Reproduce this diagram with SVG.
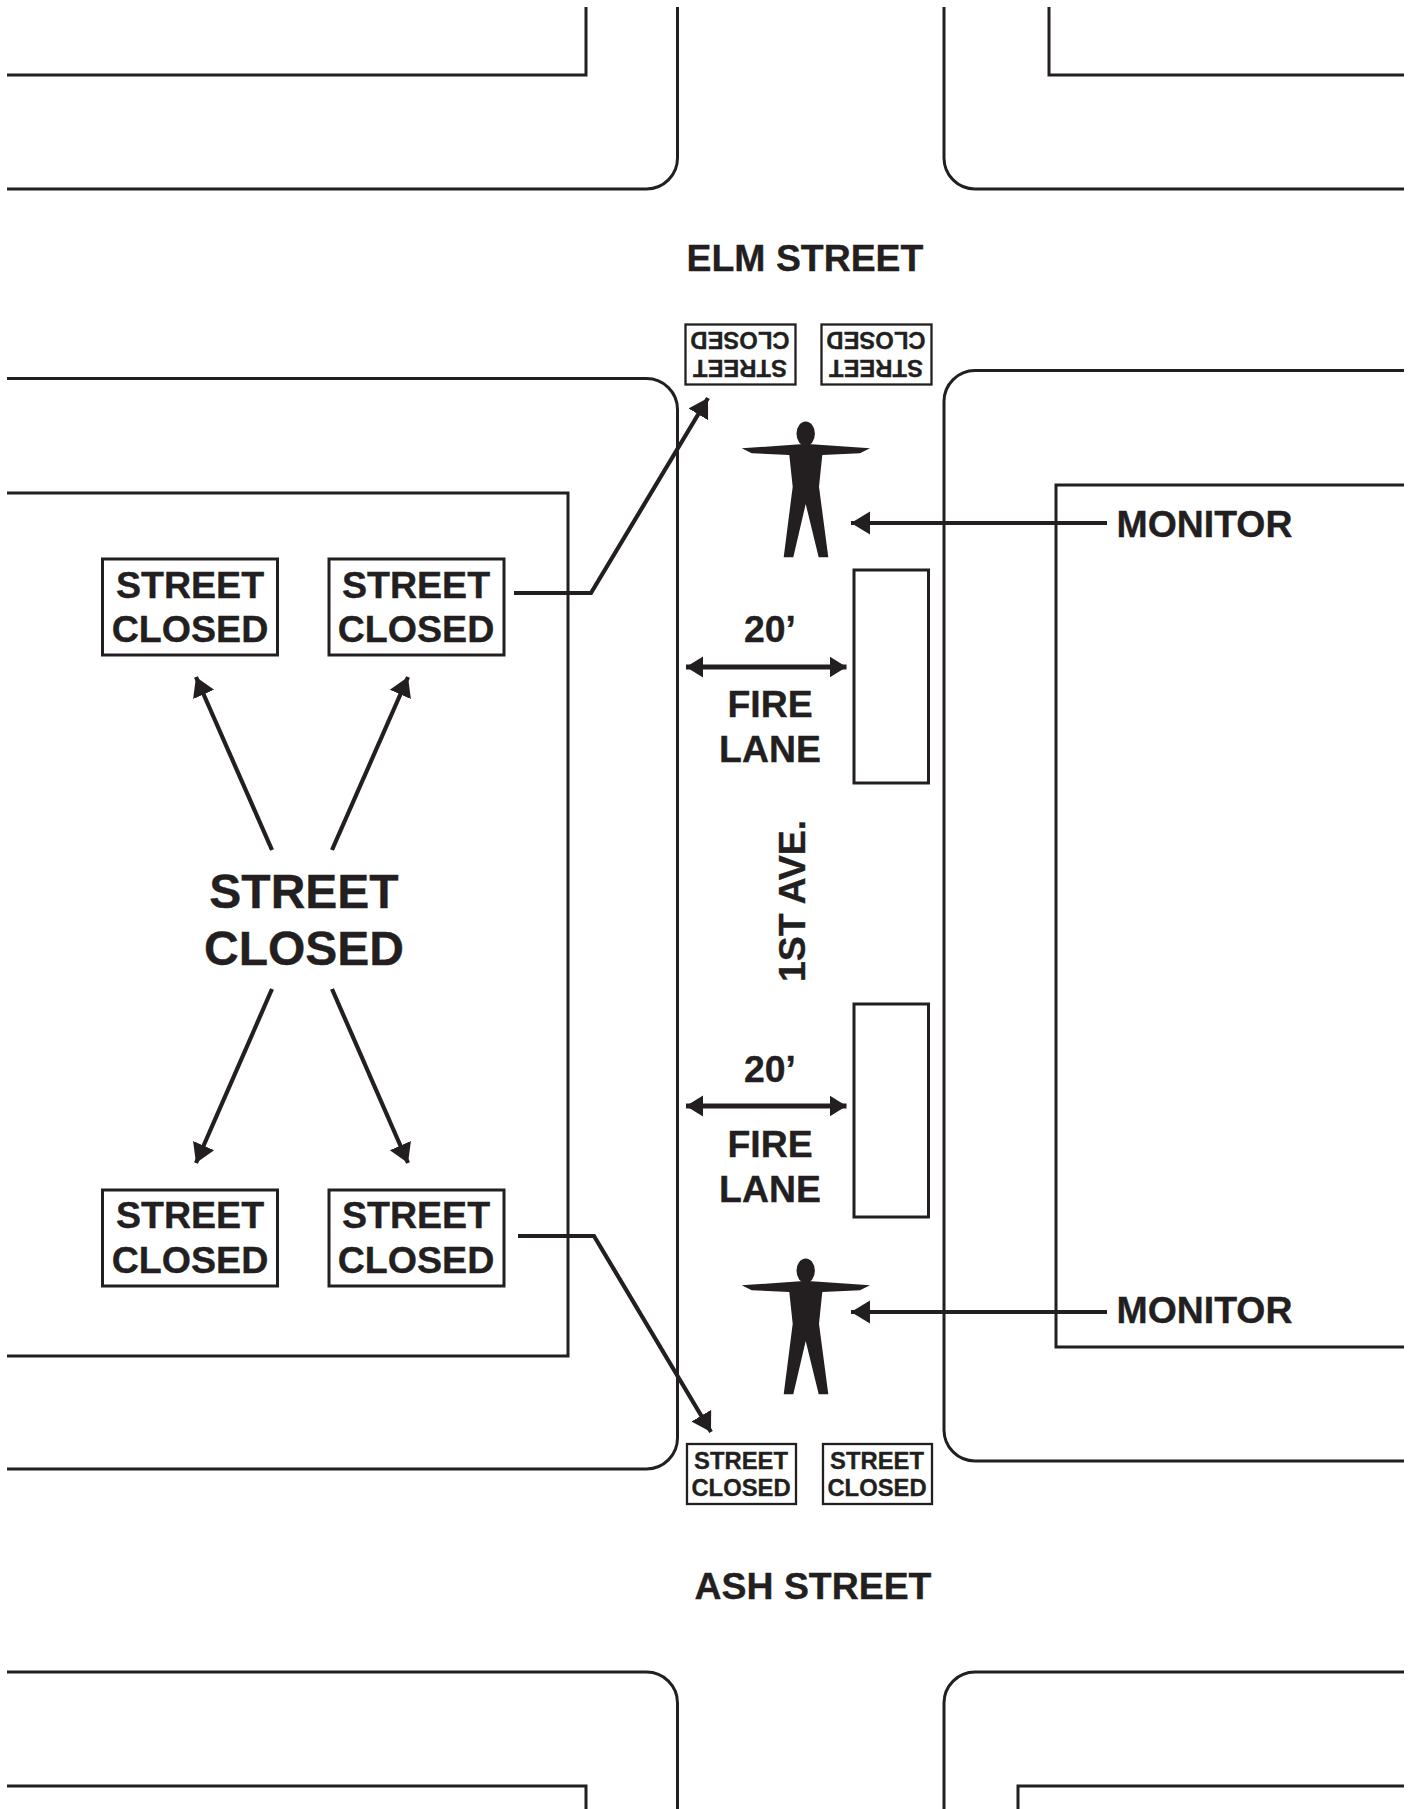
<svg xmlns="http://www.w3.org/2000/svg" width="1416" height="1809" viewBox="0 0 1416 1809">
<style>
.l{fill:none;stroke:#231f20;stroke-width:3}
.s{fill:#fff;stroke:#231f20;stroke-width:3}
.n{fill:#fff;stroke:#231f20;stroke-width:2.300}
.c{fill:none;stroke:#231f20;stroke-width:4.200}
.w{fill:none;stroke:#231f20;stroke-width:5}
.h{fill:#231f20}
text{font-family:"Liberation Sans",Arial,sans-serif;font-weight:700;fill:#231f20;stroke:#231f20;stroke-width:.35;text-anchor:middle}
.b{font-size:37.600px}.m{font-size:37.400px}.t{font-size:23.800px}.x{font-size:48px}
</style>
<defs>
<marker id="a" markerUnits="userSpaceOnUse" markerWidth="24" markerHeight="24" refX="19" refY="12" orient="auto"><path d="M0 .5L19 12L0 23.500Z" class="h"/></marker>
<marker id="d" markerUnits="userSpaceOnUse" markerWidth="22" markerHeight="22" refX="17" refY="11" orient="auto-start-reverse"><path d="M0 .5L17 11L0 21.500Z" class="h"/></marker>
<g id="p">
<ellipse cx="805.700" cy="433.700" rx="9.200" ry="12.300"/>
<path d="M741.700 448.300L800 444.300H811.700L870 448.300L860 453.300L822.300 455L819 486.700L828.300 557.300H818.700L805.700 504L793.300 557.300H783.700L792.700 486.700L789.300 455L751.700 453.300Z"/>
</g>
</defs>
<g id="blocks">
<path class="l" d="M7 75H586V7"/>
<path class="l" d="M677.500 7V158A31 31 0 0 1 646.500 189H7"/>
<path class="l" d="M944 7V158A31 31 0 0 0 975 189H1404"/>
<path class="l" d="M1049 7V75H1404"/>
<path class="l" d="M7 378.500H646.500A31 31 0 0 1 677.500 409.500V1438A31 31 0 0 1 646.500 1469H7"/>
<path class="l" d="M7 493H568V1356H7"/>
<path class="l" d="M1404 370.500H975A31 31 0 0 0 944 401.500V1430A31 31 0 0 0 975 1461H1404"/>
<path class="l" d="M1404 485H1056V1347H1404"/>
<path class="l" d="M7 1672H646.500A31 31 0 0 1 677.500 1703V1809"/>
<path class="l" d="M1404 1672H975A31 31 0 0 0 944 1703V1809"/>
<path class="l" d="M7 1786H586V1809"/>
<path class="l" d="M1404 1786H1018V1809"/>
</g>
<g id="cars">
<rect class="l" x="854" y="570" width="74.500" height="213"/>
<rect class="l" x="854" y="1004" width="74.500" height="213"/>
</g>
<g id="connectors">
<path class="c" d="M272 850L196 677" marker-end="url(#a)"/>
<path class="c" d="M332 850L408 677" marker-end="url(#a)"/>
<path class="c" d="M272 989L196 1163" marker-end="url(#a)"/>
<path class="c" d="M332 989L408 1163" marker-end="url(#a)"/>
<path class="c" d="M514 593H591L708 398" marker-end="url(#a)"/>
<path class="c" d="M518 1236H594L711 1432" marker-end="url(#a)"/>
<path class="c" d="M1107 523H851" marker-end="url(#a)"/>
<path class="c" d="M1107 1312H851" marker-end="url(#a)"/>
<path class="w" d="M686 667H846.500" marker-start="url(#d)" marker-end="url(#d)"/>
<path class="w" d="M686 1106H846.500" marker-start="url(#d)" marker-end="url(#d)"/>
</g>
<g id="person-top"><use href="#p" class="h"/></g>
<g id="person-bottom"><use href="#p" y="837" class="h"/></g>
<g id="sign-tl"><rect class="s" x="102.500" y="559" width="175" height="96"/><text class="b" x="190" y="597.500">STREET</text><text class="b" x="190" y="642">CLOSED</text></g>
<g id="sign-tr"><rect class="s" x="329" y="559" width="175" height="96"/><text class="b" x="416" y="597.500">STREET</text><text class="b" x="416" y="642">CLOSED</text></g>
<g id="sign-bl"><rect class="s" x="102.500" y="1190" width="175" height="96"/><text class="b" x="190" y="1228">STREET</text><text class="b" x="190" y="1272.500">CLOSED</text></g>
<g id="sign-br"><rect class="s" x="329" y="1190" width="175" height="96"/><text class="b" x="416" y="1228">STREET</text><text class="b" x="416" y="1272.500">CLOSED</text></g>
<g id="sign-n1"><rect class="n" x="685.500" y="324.500" width="110" height="60"/><text class="t" transform="rotate(180 740 355)" x="740" y="350">STREET</text><text class="t" transform="rotate(180 740 355)" x="740" y="378">CLOSED</text></g>
<g id="sign-n2"><rect class="n" x="821.500" y="324.500" width="110" height="60"/><text class="t" transform="rotate(180 876 355)" x="876" y="350">STREET</text><text class="t" transform="rotate(180 876 355)" x="876" y="378">CLOSED</text></g>
<g id="sign-s1"><rect class="n" x="687" y="1444" width="109" height="60"/><text class="t" x="741" y="1468.500">STREET</text><text class="t" x="741" y="1496">CLOSED</text></g>
<g id="sign-s2"><rect class="n" x="823" y="1444" width="109" height="60"/><text class="t" x="877" y="1468.500">STREET</text><text class="t" x="877" y="1496">CLOSED</text></g>
<g id="labels">
<text class="m" x="805" y="271">ELM STREET</text>
<text class="m" x="813" y="1599">ASH STREET</text>
<text class="x" x="304" y="908">STREET</text>
<text class="x" x="304" y="965">CLOSED</text>
<text class="m" x="1204.500" y="536.500">MONITOR</text>
<text class="m" x="1204.500" y="1322.500">MONITOR</text>
<text class="m" x="770" y="642">20’</text>
<text class="m" x="770" y="717">FIRE</text>
<text class="m" x="770" y="761.500">LANE</text>
<text class="m" x="770" y="1082">20’</text>
<text class="m" x="770" y="1157">FIRE</text>
<text class="m" x="770" y="1201.500">LANE</text>
<text class="m" transform="rotate(-90 805 901)" x="805" y="901">1ST AVE.</text>
</g>
</svg>
